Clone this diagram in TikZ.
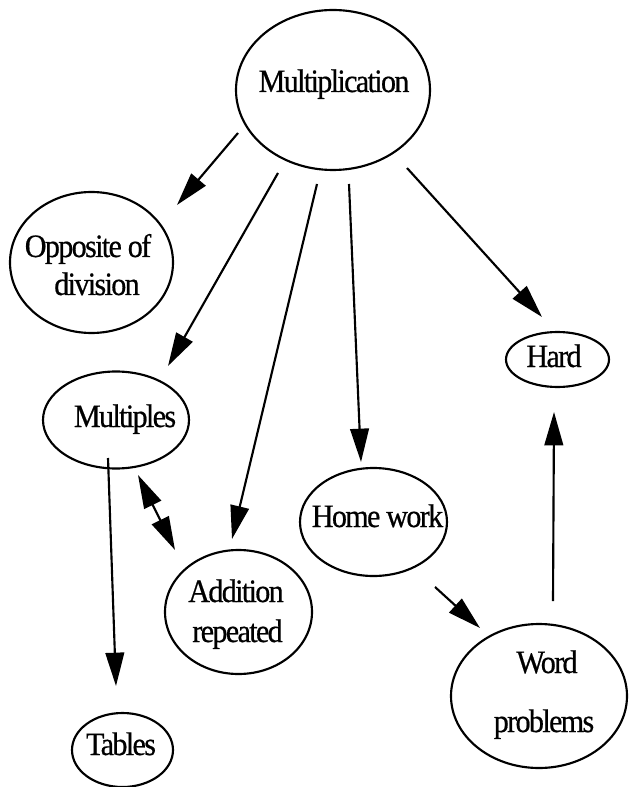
\documentclass[tikz,border=0pt]{standalone}
\usepackage{fontspec}
\setmainfont[LetterSpace=-5,FakeBold=0.6,FakeStretch=0.92]{Liberation Serif}
\usetikzlibrary{shapes.geometric,arrows.meta}
\tikzset{
  bubble/.style={draw=black, line width=1.6pt, ellipse, inner sep=0pt},
  word/.style={anchor=base, inner sep=0pt, font=\fontsize{24.5}{32}\selectfont},
  link/.style={line width=1.6pt, -{Triangle[length=25pt,width=14pt]}},
  twolink/.style={line width=1.6pt, {Triangle[length=25pt,width=14pt]}-{Triangle[length=25pt,width=14pt]}}
}
\begin{document}
\begin{tikzpicture}[x=0.75pt,y=-0.75pt]
\useasboundingbox (0,0) rectangle (628,787);
\fill[white] (0,0) rectangle (628,787);
% ellipses
\node[bubble, minimum width=145.5pt, minimum height=120pt] (mult) at (333,90) {};
\node[bubble, minimum width=122.25pt, minimum height=105.75pt] (opp) at (91.5,262.5) {};
\node[bubble, minimum width=109.5pt, minimum height=72.75pt] (multiples) at (116,420) {};
\node[bubble, minimum width=110.25pt, minimum height=93pt] (add) at (238.5,612) {};
\node[bubble, minimum width=110.25pt, minimum height=81pt] (home) at (373.5,522) {};
\node[bubble, minimum width=77.25pt, minimum height=41.25pt] (hard) at (557.5,359.5) {};
\node[bubble, minimum width=132pt, minimum height=108pt] (wordp) at (539,696) {};
\node[bubble, minimum width=75.75pt, minimum height=55.5pt] (tables) at (122.5,750) {};
% texts
\node[word] (tmult) at (334,92) {Multiplication};
\node[word] (topp1) at (88,257) {Opposite of};
\node[word] (topp2) at (97,295) {division};
\node[word] (tmultiples) at (125,427) {Multiples};
\node[word] (tadd1) at (236,602) {Addition};
\node[word] (tadd2) at (237.5,642) {repeated};
\node[word] (thome) at (377.5,527) {Home work};
\node[word] (thard) at (554,367) {Hard};
\node[word] (tword1) at (547,673) {Word};
\node[word] (tword2) at (544,732) {problems};
\node[word] (ttables) at (121,755) {Tables};
% arrow end points
\coordinate (a1s) at (238,133); \coordinate (a1e) at (177,205);
\coordinate (a2s) at (278,173); \coordinate (a2e) at (168,366);
\coordinate (a3s) at (317,184); \coordinate (a3e) at (232,539);
\coordinate (a4s) at (349,184); \coordinate (a4e) at (361,462);
\coordinate (a5s) at (407,168); \coordinate (a5e) at (542,317);
\coordinate (a6s) at (138,475); \coordinate (a6e) at (175,550);
\coordinate (a7s) at (108,458); \coordinate (a7e) at (116,686);
\coordinate (a8s) at (435,587); \coordinate (a8e) at (480,628);
\coordinate (a9s) at (553,601); \coordinate (a9e) at (554,412);
% connectors
\draw[link] (a1s) -- (a1e);
\draw[link] (a2s) -- (a2e);
\draw[link] (a3s) -- (a3e);
\draw[link] (a4s) -- (a4e);
\draw[link] (a5s) -- (a5e);
\draw[twolink] (a6s) -- (a6e);
\draw[link] (a7s) -- (a7e);
\draw[link] (a8s) -- (a8e);
\draw[link] (a9s) -- (a9e);
\end{tikzpicture}
\end{document}
